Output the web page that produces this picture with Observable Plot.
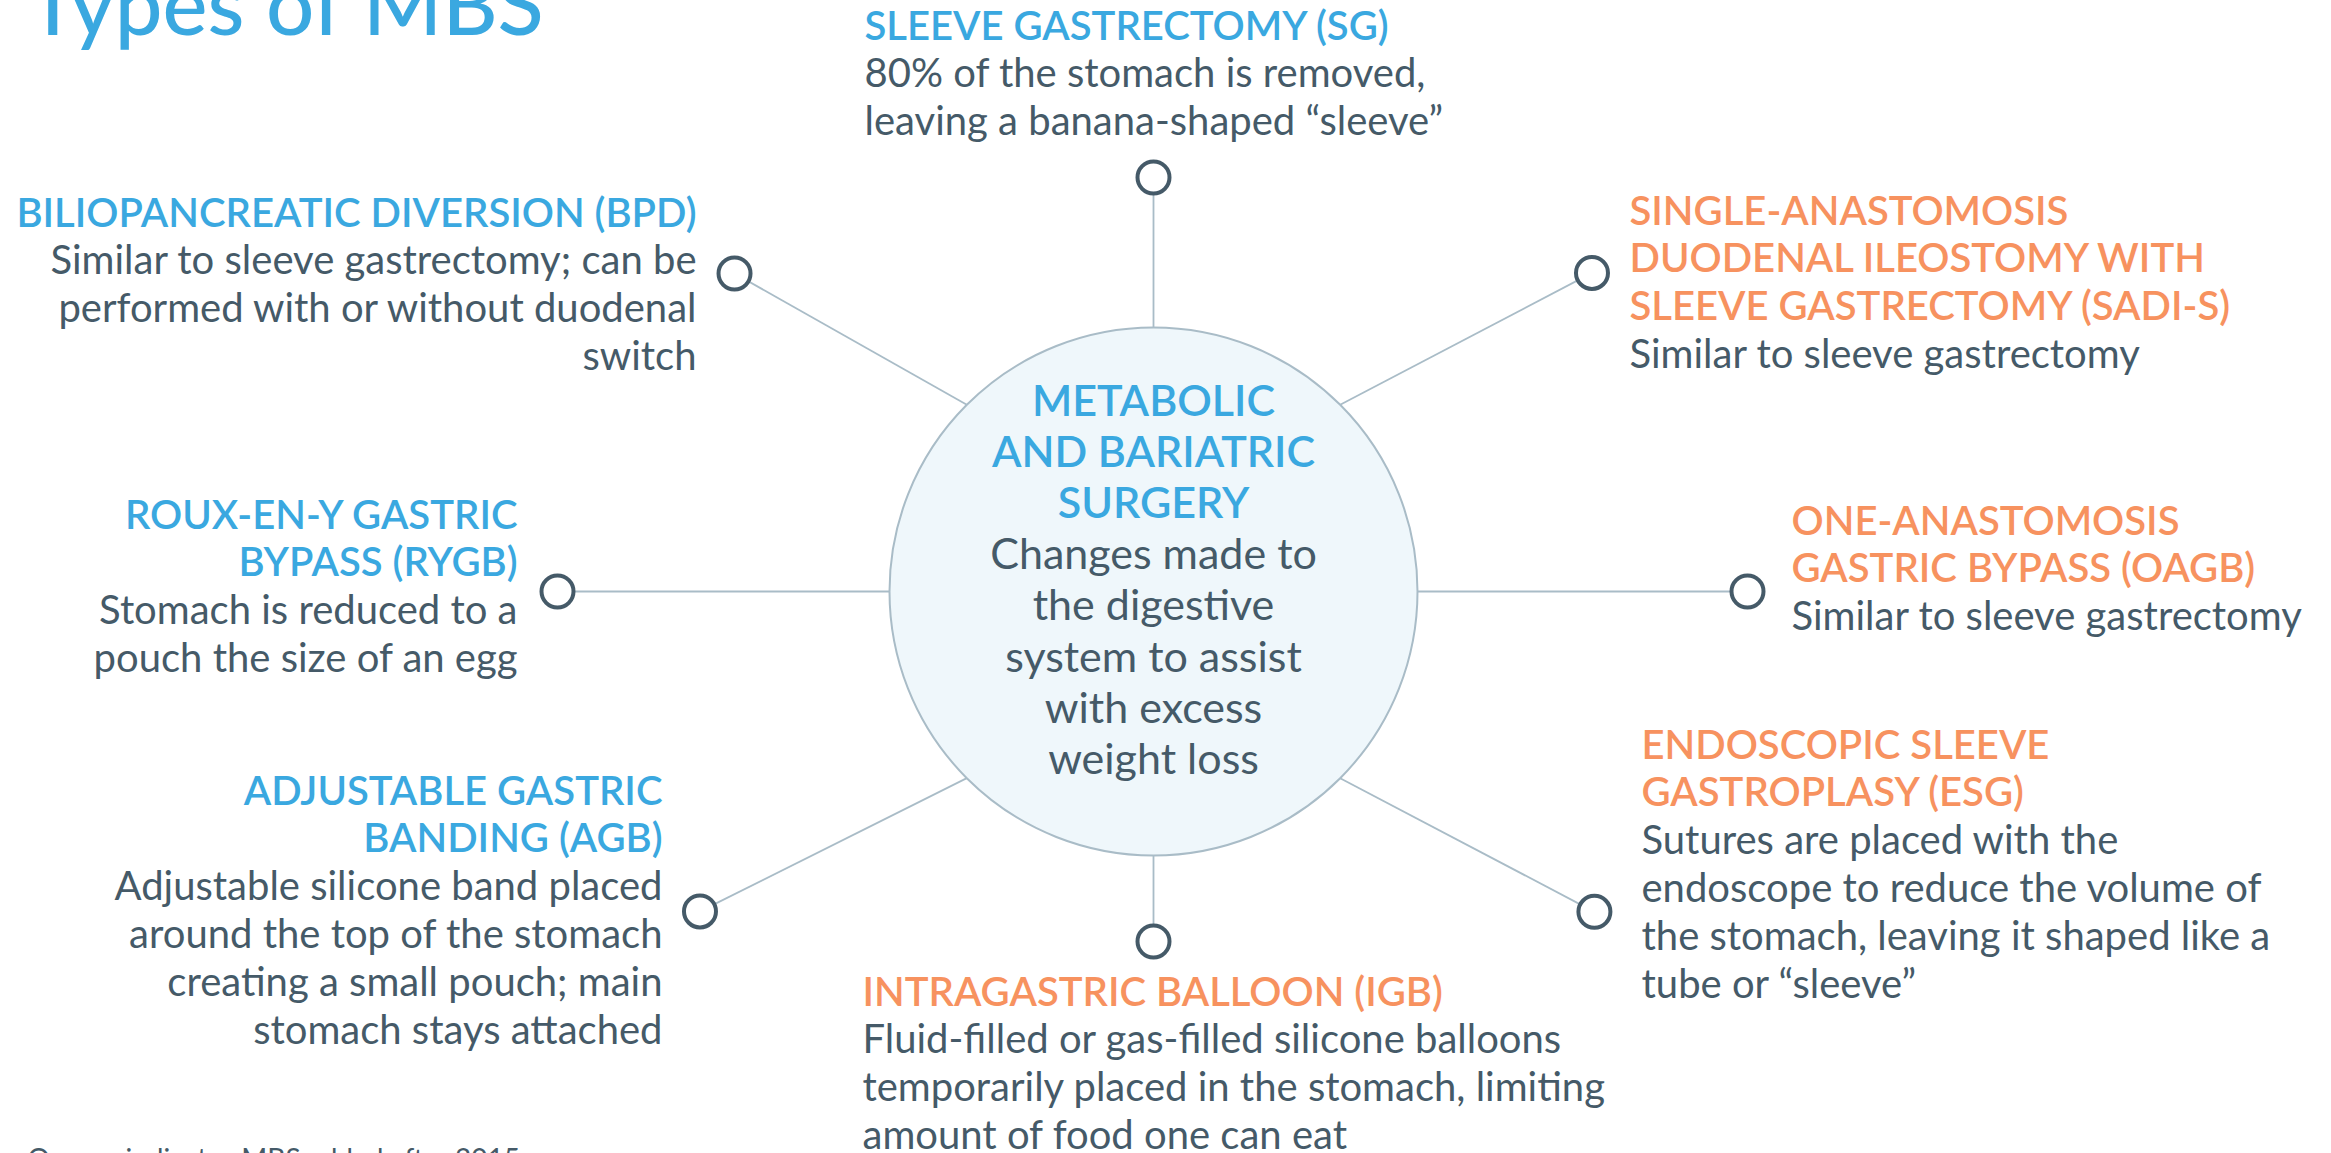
<!DOCTYPE html>
<html>
<head>
<meta charset="utf-8">
<script src="https://cdn.jsdelivr.net/npm/d3@7"></script>
<script src="https://cdn.jsdelivr.net/npm/@observablehq/plot@0.6"></script>
<style>
  html, body { margin: 0; padding: 0; background: #ffffff; overflow: hidden; }
  #chart svg { display: block; }
</style>
</head>
<body>
<div id="chart"></div>
<script>
// ---------- content ----------
const title = "Types of MBS";
const footnote = "Orange indicates MBS added after 2015";
const procedures = ["SG", "SADI-S", "OAGB", "ESG", "IGB", "AGB", "RYGB", "BPD"];
const headings = [
  "SLEEVE GASTRECTOMY (SG)",
  "SINGLE-ANASTOMOSIS\nDUODENAL ILEOSTOMY WITH\nSLEEVE GASTRECTOMY (SADI-S)",
  "ONE-ANASTOMOSIS\nGASTRIC BYPASS (OAGB)",
  "ENDOSCOPIC SLEEVE\nGASTROPLASY (ESG)",
  "INTRAGASTRIC BALLOON (IGB)",
  "ADJUSTABLE GASTRIC\nBANDING (AGB)",
  "ROUX-EN-Y GASTRIC\nBYPASS (RYGB)",
  "BILIOPANCREATIC DIVERSION (BPD)"
];
const descriptions = [
  "80% of the stomach is removed,\nleaving a banana-shaped “sleeve”",
  "Similar to sleeve gastrectomy",
  "Similar to sleeve gastrectomy",
  "Sutures are placed with the\nendoscope to reduce the volume of\nthe stomach, leaving it shaped like a\ntube or “sleeve”",
  "Fluid-filled or gas-filled silicone balloons\ntemporarily placed in the stomach, limiting\namount of food one can eat",
  "Adjustable silicone band placed\naround the top of the stomach\ncreating a small pouch; main\nstomach stays attached",
  "Stomach is reduced to a\npouch the size of an egg",
  "Similar to sleeve gastrectomy; can be\nperformed with or without duodenal\nswitch"
];
const category = ["established", "newer", "newer", "newer", "newer", "established", "established", "established"];
const centerHeading = "METABOLIC\nAND BARIATRIC\nSURGERY";
const centerText = "Changes made to\nthe digestive\nsystem to assist\nwith excess\nweight loss";

// ---------- layout (diagram coordinates) ----------
const W = 2331, H = 1153;
const hub = {x: 1153, y: 591, r: 264};
const spokeAngle = [90, 36, 0, -36, -90, -144.8, 180, 142.8];   // node direction seen from hub centre
const spokeLength = [414, 542, 594, 545, 350, 555, 596, 526];   // node distance from hub centre
const attachAngle = [90, 45, 0, -45, -90, -135, 180, 135];      // where each spoke leaves the hub rim
const labelX = [864, 1629, 1791, 1641, 862, 662, 517, 696];
const labelY = [39, 224, 534, 758, 1005, 804, 528, 226];
const labelAlign = ["start", "start", "start", "start", "start", "end", "end", "end"];
const lineStep = 47.8;
const centerFirstBaseline = 415;
const centerStep = 51.2;

// ---------- styles ----------
const BLUE = "#3aa8e0", ORANGE = "#f7925f", INK = "#455a68", SPOKE = "#a9bcc7";
const FONT = "Lato, 'Open Sans', sans-serif";

// ---------- derived tables ----------
const rad = d => d * Math.PI / 180;
const nodes = procedures.map((p, i) => ({
  id: p,
  x: hub.x + spokeLength[i] * Math.cos(rad(spokeAngle[i])),
  y: hub.y - spokeLength[i] * Math.sin(rad(spokeAngle[i])),
  ax: hub.x + hub.r * Math.cos(rad(attachAngle[i])),
  ay: hub.y - hub.r * Math.sin(rad(attachAngle[i]))
}));

const lines = [];
procedures.forEach((p, i) => {
  const rows = [
    ...headings[i].split("\n").map(t => ({t, kind: "head"})),
    ...descriptions[i].split("\n").map(t => ({t, kind: "body"}))
  ];
  rows.forEach((r, j) => lines.push({
    text: r.t, kind: r.kind, cat: category[i],
    align: labelAlign[i], x: labelX[i], y: labelY[i] + j * lineStep
  }));
});

const centerLines = [
  ...centerHeading.split("\n").map(t => ({text: t, kind: "head"})),
  ...centerText.split("\n").map(t => ({text: t, kind: "body"}))
].map((d, j) => ({...d, x: hub.x, y: centerFirstBaseline + j * centerStep}));

const sel = (align, kind) => lines.filter(d => d.align === align && d.kind === kind);

const textOpts = (kind) => ({
  x: "x", y: "y", text: "text",
  lineAnchor: "bottom",
  fontFamily: FONT,
  fontSize: 40,
  fontWeight: kind === "head" ? 600 : 400
});

const chart = Plot.plot({
  width: W,
  height: H,
  margin: 0,
  x: {domain: [0, W], axis: null},
  y: {domain: [H, 0], axis: null},
  color: {domain: ["established", "newer"], range: [BLUE, ORANGE]},
  style: {background: "#ffffff", overflow: "hidden"},
  marks: [
    // spokes
    Plot.link(nodes, {x1: "ax", y1: "ay", x2: "x", y2: "y", stroke: SPOKE, strokeWidth: 1.8}),
    // hub circle
    Plot.dot([hub], {x: "x", y: "y", r: hub.r, fill: "#eff7fb", stroke: SPOKE, strokeWidth: 2}),
    // node rings
    Plot.dot(nodes, {x: "x", y: "y", r: 16, fill: "#ffffff", stroke: INK, strokeWidth: 4}),
    // side labels
    Plot.text(sel("start", "head"), {...textOpts("head"), textAnchor: "start", fill: "cat"}),
    Plot.text(sel("end", "head"), {...textOpts("head"), textAnchor: "end", fill: "cat"}),
    Plot.text(sel("start", "body"), {...textOpts("body"), textAnchor: "start", fill: INK}),
    Plot.text(sel("end", "body"), {...textOpts("body"), textAnchor: "end", fill: INK}),
    // hub labels
    Plot.text(centerLines.filter(d => d.kind === "head"), {x: "x", y: "y", text: "text", lineAnchor: "bottom", textAnchor: "middle", fontFamily: FONT, fontSize: 43, fontWeight: 600, fill: BLUE}),
    Plot.text(centerLines.filter(d => d.kind === "body"), {x: "x", y: "y", text: "text", lineAnchor: "bottom", textAnchor: "middle", fontFamily: FONT, fontSize: 43, fontWeight: 400, fill: INK}),
    // title and footnote
    Plot.text([title], {x: () => 27, y: () => 34, text: d => d, lineAnchor: "bottom", textAnchor: "start", fontFamily: FONT, fontSize: 85, fontWeight: 500, fill: BLUE}),
    Plot.text([footnote], {x: () => 27, y: () => 1168, text: d => d, lineAnchor: "bottom", textAnchor: "start", fontFamily: FONT, fontSize: 28, fontWeight: 400, fill: INK})
  ]
});

document.getElementById("chart").appendChild(chart);
</script>
</body>
</html>
